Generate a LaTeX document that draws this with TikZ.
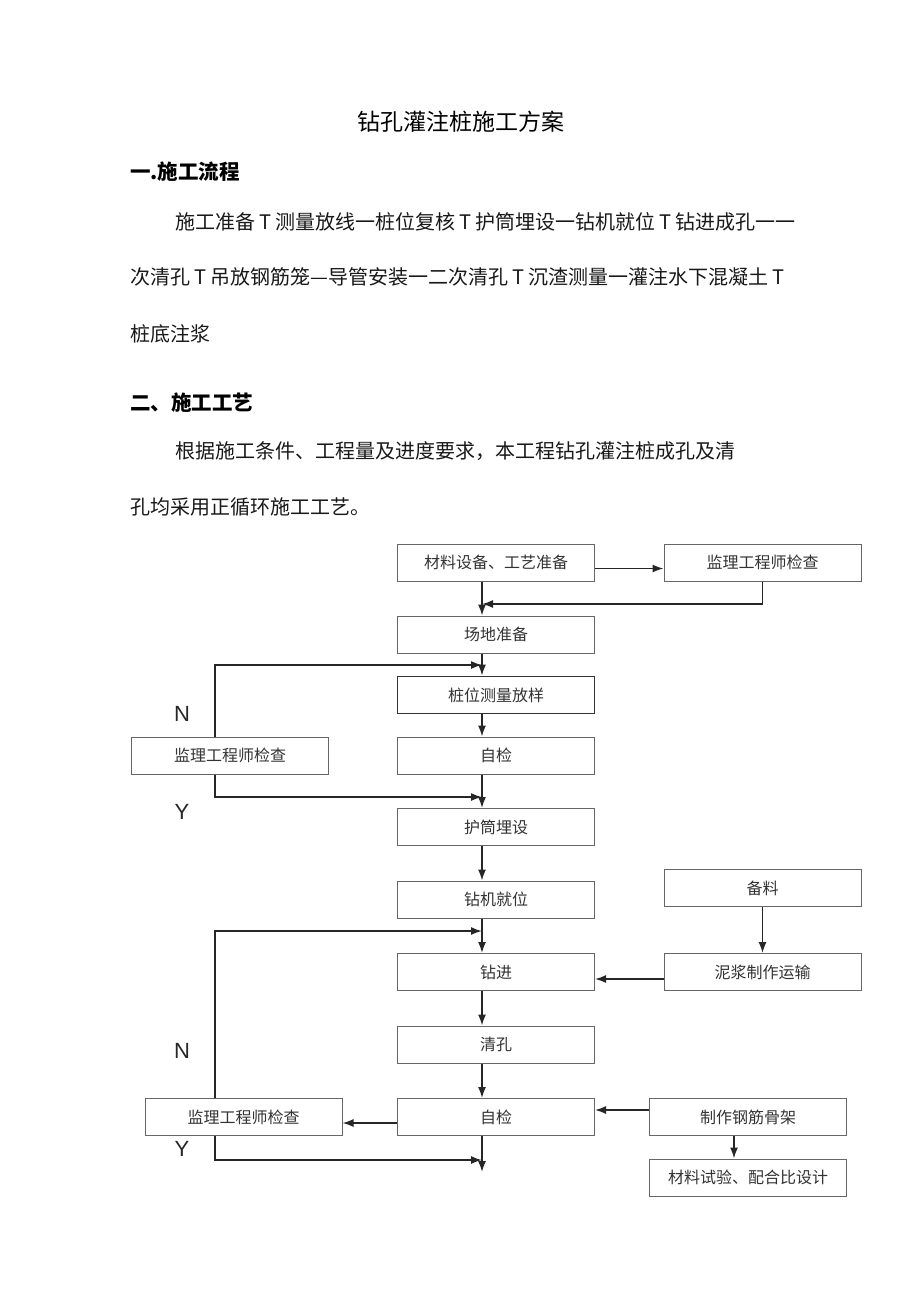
\documentclass[tikz,border=0pt]{standalone}
\usepackage{fontspec}
\newfontfamily\cjk{Noto Sans CJK SC}
\newfontfamily\lat{Liberation Sans}
\usetikzlibrary{arrows.meta}
\newcommand{\arrT}{\makebox[1em]{T}}
\begin{document}
\begin{tikzpicture}[x=1pt,y=-1pt,
  box/.style={draw=black!60, line width=1pt, minimum width=197pt, minimum height=37pt, inner sep=0pt, font=\cjk\fontsize{16}{18}\selectfont, text=black!80},
  arr/.style={line width=1.6pt, draw=black!85, -{Latex[length=11pt,width=8pt]}},
  body/.style={anchor=west, inner sep=0pt, font=\cjk\fontsize{20}{24}\selectfont, text=black!90},
  head/.style={anchor=west, inner sep=0pt, font=\cjk\bfseries\fontsize{20.5}{24}\selectfont, text=black},
  lab/.style={inner sep=0pt, font=\lat\fontsize{22}{24}\selectfont, text=black!85}]
\useasboundingbox[fill=white] (0,0) rectangle (920,1301);
% texts
\node[inner sep=0pt, font=\cjk\fontsize{23}{26}\selectfont] (title) at (461,122) {钻孔灌注桩施工方案};
\node[head] (h1) at (130,172) {一.施工流程};
\node[body] (l1) at (175,222) {施工准备\arrT 测量放线一桩位复核\arrT 护筒埋设一钻机就位\arrT 钻进成孔一一};
\node[body] (l2) at (130,277) {次清孔\arrT 吊放钢筋笼—导管安装一二次清孔\arrT 沉渣测量一灌注水下混凝土\arrT};
\node[body] (l3) at (130,334) {桩底注浆};
\node[head] (h2) at (130,403) {二、施工工艺};
\node[body] (l4) at (175,451) {根据施工条件、工程量及进度要求，本工程钻孔灌注桩成孔及清};
\node[body] (l5) at (130,507) {孔均采用正循环施工工艺。};
% boxes
\node[box] (A) at (496,562.5) {材料设备、工艺准备};
\node[box] (B) at (762.5,562.5) {监理工程师检查};
\node[box] (C) at (496,634.5) {场地准备};
\node[box, line width=1.8pt, draw=black!80] (D) at (496,695) {桩位测量放样};
\node[box] (E) at (496,755.5) {自检};
\node[box] (F) at (230,755.5) {监理工程师检查};
\node[box] (G) at (496,827) {护筒埋设};
\node[box] (H) at (496,899.5) {钻机就位};
\node[box] (Bei) at (762.5,888) {备料};
\node[box] (I) at (496,972) {钻进};
\node[box] (Ni) at (762.5,972) {泥浆制作运输};
\node[box] (J) at (496,1044.5) {清孔};
\node[box] (K) at (496,1117) {自检};
\node[box] (L) at (243.5,1117) {监理工程师检查};
\node[box] (M) at (748,1117) {制作钢筋骨架};
\node[box] (Nn) at (748,1177.5) {材料试验、配合比设计};
% labels
\node[lab] (n1) at (182,714) {N};
\node[lab] (y1) at (182,812) {Y};
\node[lab] (n2) at (182,1051) {N};
\node[lab] (y2) at (182,1149) {Y};
% helper coordinates
\coordinate (m) at (482,0);
\coordinate (lx) at (215,0);
\coordinate (mx2) at (734,0);
\coordinate (j1) at (482,604);
\coordinate (j2) at (482,665);
\coordinate (j3) at (482,797);
\coordinate (j4) at (482,931);
\coordinate (j5) at (482,1160);
\coordinate (endK) at (482,1172);
% connectors
\draw[arr] ([yshift=-6pt]A.east) -- ([yshift=-6pt]B.west);
\draw[arr] (A.south -| m) -- (C.north -| m);
\draw[arr] (B.south) |- (j1);
\draw[arr] (C.south -| m) -- (D.north -| m);
\draw[arr] (F.north -| lx) |- (j2);
\draw[arr] (D.south -| m) -- (E.north -| m);
\draw[arr] (F.south -| lx) |- (j3);
\draw[arr] (E.south -| m) -- (G.north -| m);
\draw[arr] (G.south -| m) -- (H.north -| m);
\draw[arr] (H.south -| m) -- (I.north -| m);
\draw[arr] (Bei.south) -- (Ni.north);
\draw[arr] ([yshift=-7pt]Ni.west) -- ([yshift=-7pt]I.east);
\draw[arr] (L.north -| lx) |- (j4);
\draw[arr] (I.south -| m) -- (J.north -| m);
\draw[arr] (J.south -| m) -- (K.north -| m);
\draw[arr] ([yshift=-6pt]K.west) -- ([yshift=-6pt]L.east);
\draw[arr] ([yshift=7pt]M.west) -- ([yshift=7pt]K.east);
\draw[arr] (M.south -| mx2) -- (Nn.north -| mx2);
\draw[arr] (K.south -| m) -- (endK);
\draw[arr] (L.south -| lx) |- (j5);
\end{tikzpicture}
\end{document}
